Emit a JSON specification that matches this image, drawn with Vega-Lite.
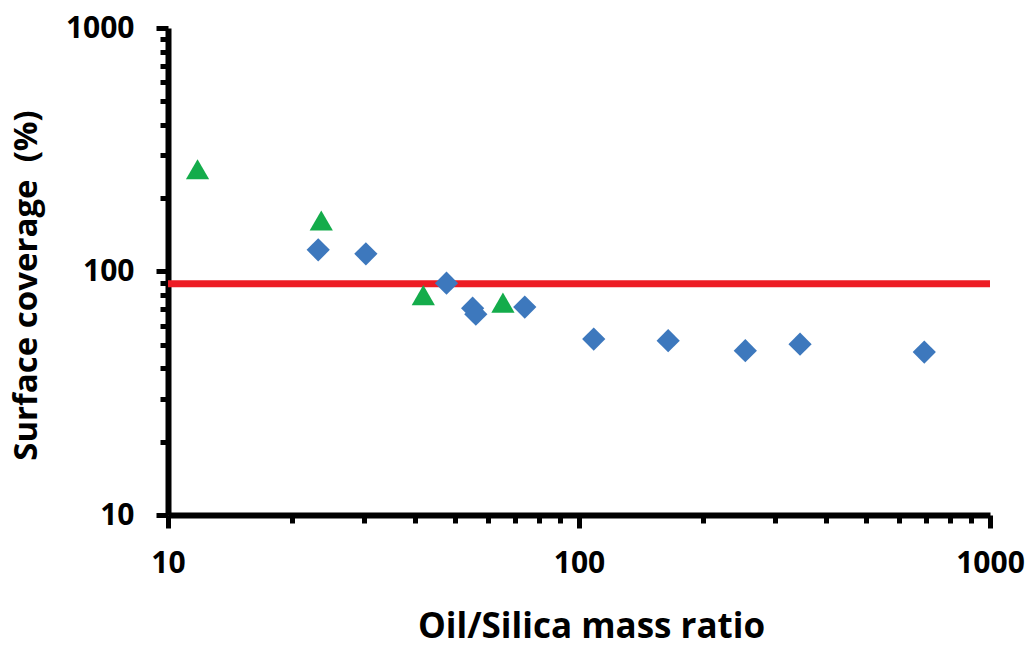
{
  "$schema": "https://vega.github.io/schema/vega-lite/v6.json",
  "width": 822,
  "height": 487,
  "autosize": "none",
  "padding": {"left": 168, "top": 28, "right": 40, "bottom": 132},
  "background": "white",
  "config": {
    "view": {"stroke": null},
    "font": "Open Sans",
    "axis": {
      "domainColor": "black",
      "domainWidth": 6,
      "tickColor": "black",
      "tickWidth": 5,
      "grid": false,
      "labelFont": "Open Sans",
      "labelFontWeight": "bold",
      "labelFontSize": 30,
      "labelColor": "black",
      "titleFont": "Open Sans",
      "titleFontWeight": "bold",
      "titleFontSize": 35,
      "titleColor": "black"
    }
  },
  "datasets": {
    "pts": [
      {"ratio": 11.8, "coverage": 263, "series": "triangle"},
      {"ratio": 23.6, "coverage": 162, "series": "triangle"},
      {"ratio": 41.8, "coverage": 80, "series": "triangle"},
      {"ratio": 65.3, "coverage": 74.5, "series": "triangle"},
      {"ratio": 23.2, "coverage": 122.7, "series": "diamond"},
      {"ratio": 30.3, "coverage": 118.2, "series": "diamond"},
      {"ratio": 47.6, "coverage": 89.5, "series": "diamond"},
      {"ratio": 55.1, "coverage": 70.7, "series": "diamond"},
      {"ratio": 56.1, "coverage": 66.8, "series": "diamond"},
      {"ratio": 73.8, "coverage": 71.4, "series": "diamond"},
      {"ratio": 108.6, "coverage": 52.8, "series": "diamond"},
      {"ratio": 164.8, "coverage": 52.0, "series": "diamond"},
      {"ratio": 253.9, "coverage": 47.3, "series": "diamond"},
      {"ratio": 345, "coverage": 50.3, "series": "diamond"},
      {"ratio": 692, "coverage": 46.7, "series": "diamond"}
    ],
    "ref": [{"coverage": 89}]
  },
  "layer": [
    {
      "data": {"name": "ref"},
      "mark": {"type": "rule", "color": "#ED1C24", "strokeWidth": 7},
      "encoding": {
        "y": {"field": "coverage", "type": "quantitative"}
      }
    },
    {
      "data": {"name": "pts"},
      "mark": {"type": "point", "filled": true, "opacity": 1, "size": 540},
      "encoding": {
        "x": {
          "field": "ratio",
          "type": "quantitative",
          "scale": {"type": "log", "domain": [10, 1000], "nice": false},
          "axis": {
            "title": "Oil/Silica mass ratio",
            "values": [10, 20, 30, 40, 50, 60, 70, 80, 90, 100, 200, 300, 400, 500, 600, 700, 800, 900, 1000],
            "labelExpr": "indexof([10,100,1000], datum.value) >= 0 ? '' + datum.value : ''",
            "tickSize": {"condition": {"test": "indexof([10,100,1000], datum.value) >= 0", "value": 13}, "value": 8},
            "labelPadding": 20,
            "titlePadding": 31,
            "titleX": 423,
            "labelFlush": false,
            "labelOverlap": false
          }
        },
        "y": {
          "field": "coverage",
          "type": "quantitative",
          "scale": {"type": "log", "domain": [10, 1000], "nice": false},
          "axis": {
            "title": "Surface coverage\u00a0 (%)",
            "values": [10, 20, 30, 40, 50, 60, 70, 80, 90, 100, 200, 300, 400, 500, 600, 700, 800, 900, 1000],
            "labelExpr": "indexof([10,100,1000], datum.value) >= 0 ? '' + datum.value : ''",
            "tickSize": {"condition": {"test": "indexof([10,100,1000], datum.value) >= 0", "value": 12}, "value": 8},
            "labelPadding": 22,
            "titlePadding": 22,
            "titleY": 257,
            "titleFontSize": 33,
            "labelFlush": false,
            "labelOverlap": false
          }
        },
        "shape": {
          "field": "series",
          "type": "nominal",
          "scale": {"domain": ["diamond", "triangle"], "range": ["diamond", "triangle-up"]},
          "legend": null
        },
        "color": {
          "field": "series",
          "type": "nominal",
          "scale": {"domain": ["diamond", "triangle"], "range": ["#3D78BD", "#14AC4B"]},
          "legend": null
        }
      }
    }
  ]
}
